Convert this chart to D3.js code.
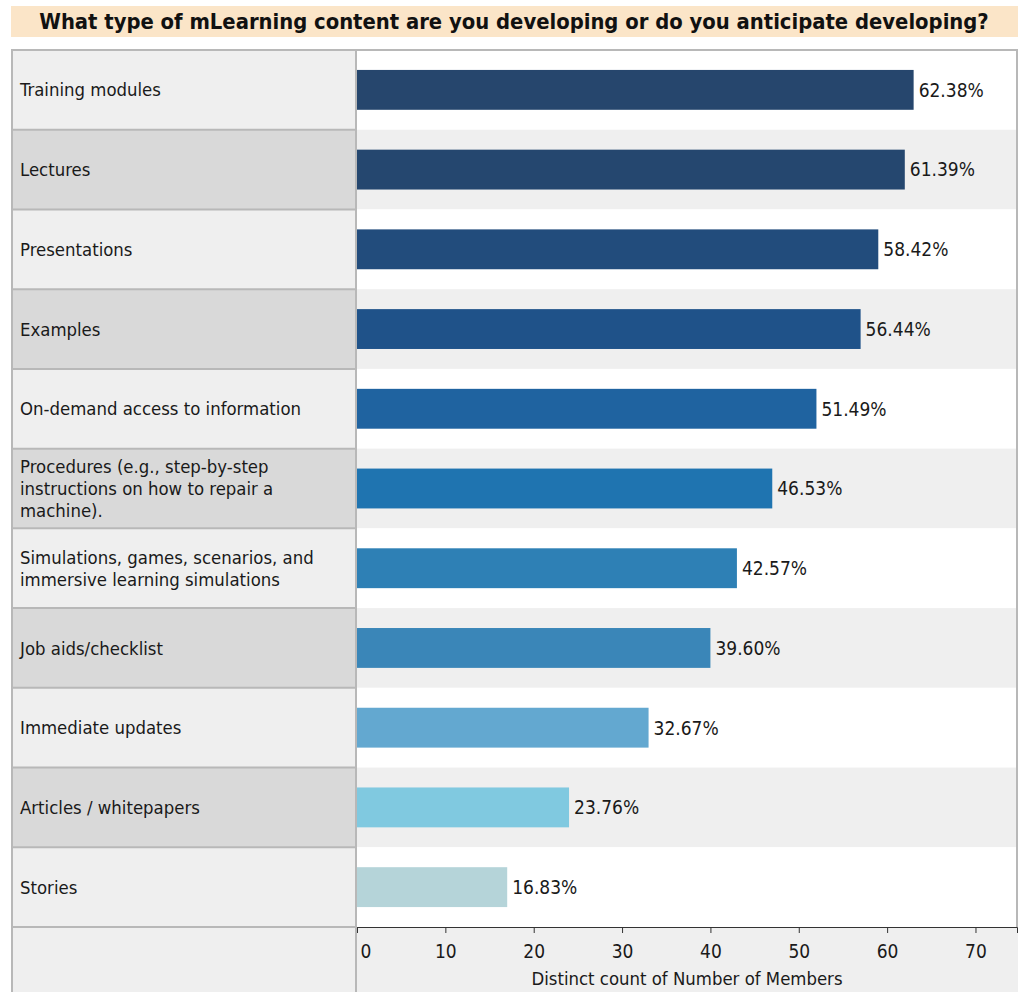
<!DOCTYPE html>
<html>
<head>
<meta charset="utf-8">
<script src="https://cdn.jsdelivr.net/npm/d3@7"></script>
<style>
  body { margin: 0; background: #fff; }
  text { font-family: "DejaVu Sans Condensed", "DejaVu Sans", sans-serif; fill: #1a1a1a; }
</style>
</head>
<body>
<svg id="chart"></svg>
<script>
// data
const categories = [
  "Training modules",
  "Lectures",
  "Presentations",
  "Examples",
  "On-demand access to information",
  "Procedures (e.g., step-by-step instructions on how to repair a machine).",
  "Simulations, games, scenarios, and immersive learning simulations",
  "Job aids/checklist",
  "Immediate updates",
  "Articles / whitepapers",
  "Stories"
];
const counts = [63, 62, 59, 57, 52, 47, 43, 40, 33, 24, 17];
const pctLabels = ["62.38%", "61.39%", "58.42%", "56.44%", "51.49%", "46.53%", "42.57%", "39.60%", "32.67%", "23.76%", "16.83%"];
const barColors = ["#26466d", "#25476f", "#224c7c", "#1f5289", "#1f63a0", "#1f74b0", "#2e80b5", "#3a86b8", "#63a8d0", "#80c9e0", "#b5d4d9"];
const tickValues = [0, 10, 20, 30, 40, 50, 60, 70];
const titleText = "What type of mLearning content are you developing or do you anticipate developing?";
const axisTitle = "Distinct count of Number of Members";

const width = 1023, height = 992;
const plotLeft = 11, divider = 357, plotRight = 1017;
const plotTop = 50, plotBottom = 927;
const fontSize = 18.4;
const border = "#b8b8b8";

const svg = d3.select('#chart')
  .attr('width', width)
  .attr('height', height);

// title band
svg.append('rect')
  .attr('x', plotLeft).attr('y', 6)
  .attr('width', plotRight + 1 - plotLeft).attr('height', 31)
  .attr('fill', '#fbe5c8');
svg.append('text')
  .attr('x', (plotLeft + plotRight) / 2).attr('y', 28.5)
  .attr('text-anchor', 'middle')
  .style('font-weight', 'bold')
  .style('font-size', '21.8px')
  .style('fill', '#111')
  .text(titleText);

const y = d3.scaleBand()
  .domain(categories)
  .range([plotTop, plotBottom]);
const x = d3.scaleLinear()
  .domain([0, 74.7])
  .range([divider, plotRight]);
const bw = y.bandwidth();

// row backgrounds
svg.append('g').selectAll('rect')
  .data(categories)
  .join('rect')
  .attr('x', divider).attr('y', d => y(d))
  .attr('width', plotRight - divider).attr('height', bw)
  .attr('fill', (d, i) => i % 2 ? '#efefef' : '#ffffff');

svg.append('g').selectAll('rect')
  .data(categories)
  .join('rect')
  .attr('x', plotLeft).attr('y', d => y(d))
  .attr('width', divider - plotLeft).attr('height', bw)
  .attr('fill', (d, i) => i % 2 ? '#d9d9d9' : '#efefef');

// bottom strip (axis area)
svg.append('rect')
  .attr('x', plotLeft).attr('y', plotBottom)
  .attr('width', plotRight + 1 - plotLeft).attr('height', height - plotBottom)
  .attr('fill', '#efefef');

// row separators on the label side
svg.append('g').selectAll('line')
  .data(categories.slice(1).concat(['__end']))
  .join('line')
  .attr('x1', plotLeft).attr('x2', divider)
  .attr('y1', d => d === '__end' ? plotBottom : y(d))
  .attr('y2', d => d === '__end' ? plotBottom : y(d))
  .attr('stroke', border).attr('stroke-width', 2);

// frame
const frame = svg.append('g').attr('stroke', border).attr('stroke-width', 2).attr('fill', 'none');
frame.append('line').attr('x1', plotLeft).attr('x2', plotRight + 1).attr('y1', plotTop).attr('y2', plotTop);
frame.append('line').attr('x1', plotLeft + 1).attr('x2', plotLeft + 1).attr('y1', plotTop).attr('y2', height);
frame.append('line').attr('x1', divider - 1).attr('x2', divider - 1).attr('y1', plotTop).attr('y2', height);
frame.append('line').attr('x1', plotRight).attr('x2', plotRight).attr('y1', plotTop).attr('y2', plotBottom);

// bars
svg.append('g').selectAll('rect')
  .data(counts)
  .join('rect')
  .attr('x', x(0))
  .attr('y', (d, i) => y(categories[i]) + bw / 4)
  .attr('width', d => x(d) - x(0))
  .attr('height', bw / 2)
  .attr('fill', (d, i) => barColors[i]);

// value labels
svg.append('g').selectAll('text')
  .data(counts)
  .join('text')
  .attr('x', d => x(d) + 5)
  .attr('y', (d, i) => y(categories[i]) + bw / 2)
  .attr('dy', '0.36em')
  .style('font-size', '19px')
  .text((d, i) => pctLabels[i]);

// category labels, wrapped
const labels = svg.append('g').selectAll('text')
  .data(categories)
  .join('text')
  .attr('x', 20)
  .style('font-size', fontSize + 'px');

labels.each(function(d) {
  const t = d3.select(this);
  const words = d.split(' ');
  let lines = [], line = [];
  const probe = t.append('tspan');
  words.forEach(w => {
    probe.text(line.concat(w).join(' '));
    if (probe.node().getComputedTextLength() > 320 && line.length) {
      lines.push(line.join(' '));
      line = [w];
    } else {
      line.push(w);
    }
  });
  lines.push(line.join(' '));
  probe.remove();
  const lh = 22;
  const cy = y(d) + bw / 2 - (lines.length - 1) * lh / 2;
  lines.forEach((l, k) => {
    t.append('tspan')
      .attr('x', 20)
      .attr('y', cy + k * lh)
      .attr('dy', '0.36em')
      .text(l);
  });
});

// x axis: labels centred on ticks, the first one kept inside the plot
const axis = svg.append('g')
  .attr('transform', `translate(0,${plotBottom})`)
  .call(d3.axisBottom(x).tickValues(tickValues).tickSizeOuter(0).tickSize(6));
axis.select('.domain').attr('stroke', '#333');
axis.selectAll('.tick line').attr('stroke', '#333');
axis.selectAll('.tick text')
  .attr('text-anchor', (d, i) => i === 0 ? 'start' : 'middle')
  .attr('x', (d, i) => i === 0 ? 3 : 0)
  .attr('y', 18)
  .attr('fill', '#1a1a1a')
  .style('font-family', '"DejaVu Sans Condensed", "DejaVu Sans", sans-serif')
  .style('font-size', '19px');

svg.append('text')
  .attr('x', (divider + plotRight) / 2)
  .attr('y', 985)
  .attr('text-anchor', 'middle')
  .style('font-size', fontSize + 'px')
  .text(axisTitle);
</script>
</body>
</html>
